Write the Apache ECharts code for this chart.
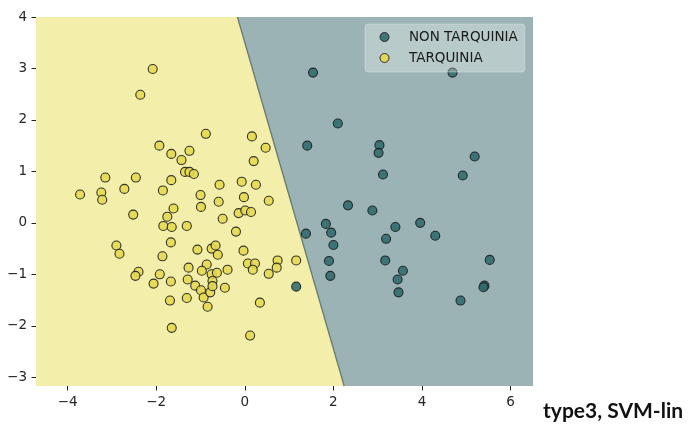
<!DOCTYPE html>
<html>
<head>
<meta charset="utf-8">
<script src="https://cdn.jsdelivr.net/npm/echarts@6/dist/echarts.min.js"></script>
<style>
html,body{margin:0;padding:0;background:#fff;}
#chart{width:693px;height:428px;}
</style>
</head>
<body>
<div id="chart"></div>
<script>
// ---- data ----
const xRange = [-4.715, 6.507];
const yRange = [-3.17, 4.0];
const xTicks = [-4, -2, 0, 2, 4, 6];
const yTicks = [-3, -2, -1, 0, 1, 2, 3, 4];
const boundaryTop = [-0.167, 4.0];
const boundaryBottom = [2.244, -3.17];
const seriesNames = ['NON TARQUINIA', 'TARQUINIA'];
const nonTarquiniaPoints = [
  [1.54, 2.92], [4.69, 2.92], [2.10, 1.93], [1.41, 1.50], [3.04, 1.51],
  [3.02, 1.36], [5.19, 1.29], [3.12, 0.94], [4.92, 0.92], [2.33, 0.34],
  [2.88, 0.24], [1.16, -1.24], [1.38, -0.21], [1.83, -0.02], [1.95, -0.19],
  [2.00, -0.43], [1.90, -0.74], [1.93, -1.03], [3.40, -0.08], [3.19, -0.31],
  [3.96, 0.00], [4.30, -0.25], [3.17, -0.73], [3.57, -0.93], [3.45, -1.10],
  [3.47, -1.35], [5.53, -0.72], [5.41, -1.22], [5.39, -1.25], [4.87, -1.51]
];
const tarquiniaPoints = [
  [-2.08, 2.99], [-2.36, 2.49], [-0.88, 1.73], [-1.93, 1.50], [-1.66, 1.34],
  [-1.25, 1.40], [-1.43, 1.22], [-1.35, 0.99], [-1.25, 0.99], [-1.15, 0.95],
  [-3.15, 0.88], [-2.46, 0.88], [-1.66, 0.83], [-0.57, 0.74], [-3.72, 0.55],
  [-3.24, 0.59], [-3.22, 0.45], [-2.72, 0.66], [-1.85, 0.63], [-1.00, 0.54],
  [-0.59, 0.41], [-0.99, 0.31], [0.16, 1.68], [0.47, 1.46], [0.20, 1.20],
  [-0.07, 0.80], [0.25, 0.74], [-0.02, 0.50], [0.54, 0.43], [-0.14, 0.19],
  [0.01, 0.24], [0.14, 0.21], [-2.52, 0.16], [-1.75, 0.12], [-1.61, 0.28],
  [-0.50, 0.08], [-1.84, -0.06], [-1.65, -0.08], [-1.31, -0.06], [-0.20, -0.17],
  [-1.67, -0.38], [-2.90, -0.44], [-2.83, -0.60], [-1.86, -0.65], [-1.07, -0.52],
  [-0.75, -0.50], [-0.66, -0.44], [-0.61, -0.62], [-0.03, -0.54], [-2.40, -0.95],
  [-2.47, -1.03], [-1.92, -1.00], [-2.06, -1.18], [-1.67, -1.14], [-1.27, -0.87],
  [-0.86, -0.81], [-0.97, -0.93], [-0.75, -1.00], [-0.63, -0.97], [-0.39, -0.91],
  [-1.29, -1.10], [-1.12, -1.22], [-0.99, -1.31], [-0.93, -1.45], [-0.78, -1.35],
  [-0.73, -1.13], [-0.73, -1.23], [-0.45, -1.26], [-1.31, -1.46], [-1.69, -1.51],
  [-0.84, -1.63], [-1.65, -2.04], [0.07, -0.79], [0.23, -0.79], [0.18, -0.91],
  [0.54, -0.99], [0.74, -0.73], [0.72, -0.87], [1.16, -0.73], [0.34, -1.55],
  [0.12, -2.19]
];
const footnote = 'type3, SVM-lin';

// ---- chart ----
const yellowRegion = [[xRange[0], yRange[1]], boundaryTop, boundaryBottom, [xRange[0], yRange[0]]];
const tealRegion = [boundaryTop, [xRange[1], yRange[1]], [xRange[1], yRange[0]], boundaryBottom];

function polySeries(poly, fill) {
  return {
    type: 'custom',
    silent: true,
    clip: true,
    z: 1,
    data: [[0, 0]],
    renderItem: function (params, api) {
      return {
        type: 'polygon',
        shape: { points: poly.map(p => api.coord(p)) },
        style: { fill: fill, stroke: null }
      };
    }
  };
}
const fmt = v => String(v).replace('-', '\u2212');
const chart = echarts.init(document.getElementById('chart'), null, { renderer: 'canvas' });
chart.setOption({
  animation: false,
  backgroundColor: '#ffffff',
  textStyle: { fontFamily: 'DejaVu Sans' },
  grid: { left: 36, top: 17, width: 497, height: 369, containLabel: false },
  xAxis: {
    type: 'value', min: xRange[0], max: xRange[1],
    axisLine: { show: false, onZero: false },
    splitLine: { show: false },
    axisTick: { show: true, customValues: xTicks, length: 4.5, lineStyle: { color: '#222', width: 1 } },
    axisLabel: { customValues: xTicks, formatter: fmt, fontSize: 13.5, color: '#262626', margin: 9, fontFamily: 'DejaVu Sans' }
  },
  yAxis: {
    type: 'value', min: yRange[0], max: yRange[1],
    axisLine: { show: false, onZero: false },
    splitLine: { show: false },
    axisTick: { show: true, customValues: yTicks, length: 4.5, lineStyle: { color: '#222', width: 1 } },
    axisLabel: { customValues: yTicks, formatter: fmt, fontSize: 13.5, color: '#262626', margin: 9, fontFamily: 'DejaVu Sans' }
  },
  legend: {
    show: true,
    orient: 'vertical',
    left: 365, top: 24,
    data: seriesNames,
    icon: 'circle',
    itemWidth: 9, itemHeight: 9,
    itemGap: 5,
    padding: [5, 7, 6, 14.5],
    backgroundColor: 'rgba(255,255,255,0.3)',
    borderColor: 'rgba(225,230,230,0.45)',
    borderWidth: 1,
    borderRadius: 3,
    textStyle: { fontSize: 13.5, color: '#1a1a1a', fontFamily: 'DejaVu Sans', lineHeight: 16, padding: [0, 0, 0, 15] },
    itemStyle: { borderColor: '#1a1a1a', borderWidth: 1 }
  },
  series: [
    polySeries(yellowRegion, '#f3eea9'),
    polySeries(tealRegion, '#9bb3b5'),
    {
      type: 'line', silent: true, z: 2,
      data: [boundaryTop, boundaryBottom],
      symbol: 'none',
      lineStyle: { color: '#6a7a70', width: 1.3 }
    },
    {
      name: seriesNames[0], type: 'scatter', z: 3,
      data: nonTarquiniaPoints,
      symbol: 'circle', symbolSize: 9,
      itemStyle: { color: '#2f6a6c', borderColor: '#1a1a1a', borderWidth: 1.1, opacity: 0.88 }
    },
    {
      name: seriesNames[1], type: 'scatter', z: 3,
      data: tarquiniaPoints,
      symbol: 'circle', symbolSize: 9,
      itemStyle: { color: '#e4d84e', borderColor: '#1a1a1a', borderWidth: 1.1, opacity: 0.88 }
    }
  ],
  graphic: [{
    type: 'text', left: 543, top: 401,
    style: { text: footnote, font: 'bold 21px Lato', fill: '#111' }
  }]
});
</script>
</body>
</html>
